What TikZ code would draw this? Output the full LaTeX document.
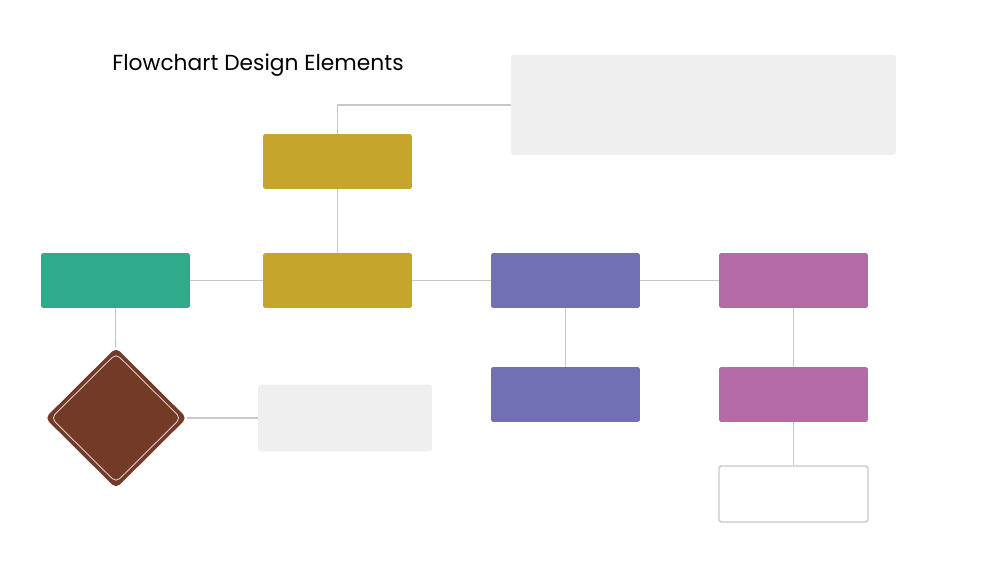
\documentclass[tikz,border=0pt]{standalone}
\usepackage{fontspec}
\setmainfont{Poppins}
\usetikzlibrary{shapes.geometric}

\definecolor{boxgreen}{HTML}{2FAA8A}
\definecolor{boxgold}{HTML}{C5A52C}
\definecolor{boxpurple}{HTML}{7170B5}
\definecolor{boxpink}{HTML}{B46AA6}
\definecolor{boxbrown}{HTML}{733A28}
\definecolor{notegrey}{HTML}{EFEFEF}
\definecolor{linegrey}{HTML}{C8C8C8}

\begin{document}
\begin{tikzpicture}
			[x=0.02cm,y=-0.02cm,
			every node/.style={inner sep=0pt,rounded corners=1pt},
			block/.style={minimum width=2.98cm,minimum height=1.1cm},
			note/.style={fill=notegrey},
			link/.style={draw=linegrey,line width=0.6pt}]
			\useasboundingbox (0,0) rectangle (1000,563);
			\node[font=\fontsize{12.4}{15}\selectfont,rounded corners=0pt,anchor=west] (title) at (112,65) {Flowchart Design Elements};
			
			\node[block,fill=boxgreen] (start) at (115.5,280.5) {};
			\node[block,fill=boxgold] (g1) at (337.5,161.5) {};
			\node[block,fill=boxgold] (g2) at (337.5,280.5) {};
			\node[block,fill=boxpurple] (p1) at (565.5,280.5) {};
			\node[block,fill=boxpurple] (p2) at (565.5,394.5) {};
			\node[block,fill=boxpink] (m1) at (793.5,280.5) {};
			\node[block,fill=boxpink] (m2) at (793.5,394.5) {};
			\node[block,draw=linegrey,line width=0.8pt,fill=white,minimum height=1.12cm] (end) at (793.5,494) {};
			\node[note,minimum width=7.7cm,minimum height=2cm] (n1) at (703.5,105) {};
			\node[note,minimum width=3.48cm,minimum height=1.34cm] (n2) at (345,418) {};
			\node[diamond,fill=boxbrown,minimum width=2.84cm,minimum height=2.82cm,rounded corners=3pt] (dec) at (116,418) {};
			\node[diamond,draw=white!75!boxbrown,line width=0.5pt,minimum width=2.6cm,minimum height=2.58cm,rounded corners=3pt] (decin) at (116,418) {};
			
			\foreach \from/\to in {start/g2,g2/p1,p1/m1,g2/g1,p1/p2,m1/m2,m2/end,start/dec,dec/n2}
			\draw[link] (\from) -- (\to);
			\draw[link] (g1.north) |- (n1.west);
			\end{tikzpicture}
\end{document}
